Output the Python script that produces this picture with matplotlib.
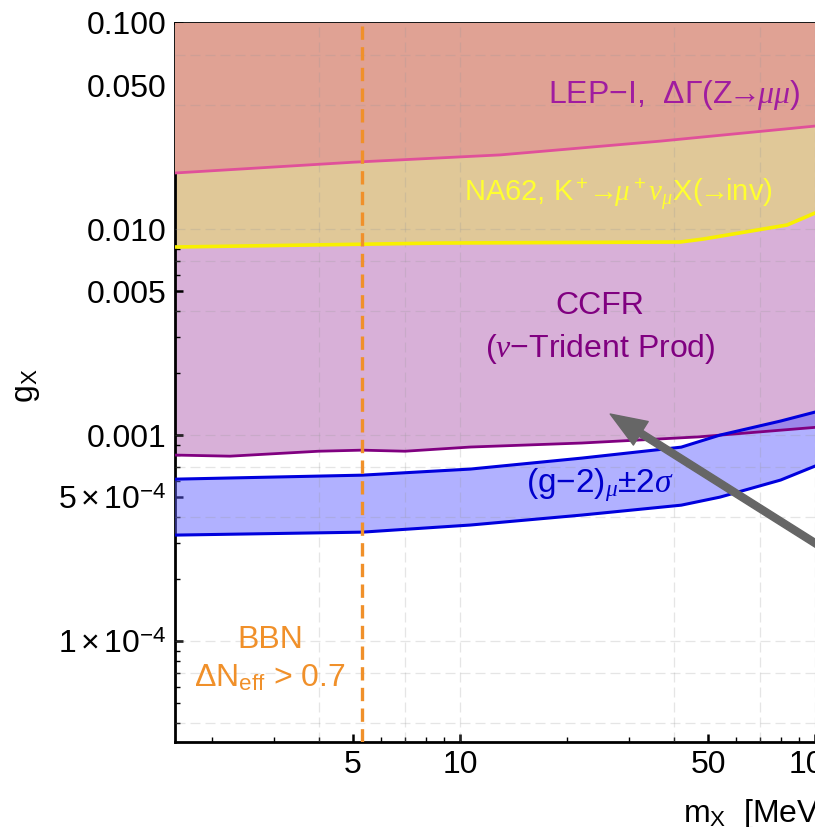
import numpy as np
import matplotlib.pyplot as plt
from matplotlib.ticker import FixedLocator, FixedFormatter, NullFormatter

plt.rcParams['font.family'] = ['Liberation Sans', 'DejaVu Sans']
plt.rcParams['mathtext.fontset'] = 'custom'
plt.rcParams['mathtext.rm'] = 'Liberation Sans'
plt.rcParams['mathtext.it'] = 'Liberation Serif:italic'
plt.rcParams['mathtext.bf'] = 'Liberation Sans:bold'

# LEP-I, Delta Gamma(Z -> mu mu) bound
m_lep = [1.57, 5.0, 13.0, 36.6, 100]
g_lep = [0.0187, 0.0211, 0.0229, 0.0267, 0.0316]

# NA62, K+ -> mu+ nu X(inv)
m_na62 = [1.57, 8.8, 41.7, 48.4, 83.4, 100]
g_na62 = [8.18e-3, 8.55e-3, 8.65e-3, 8.94e-3, 1.046e-2, 1.196e-2]

# CCFR neutrino trident
m_ccfr = [1.57, 2.25, 4.0, 5.3, 7.0, 10.7, 22, 47, 100]
g_ccfr = [8.0e-4, 7.9e-4, 8.35e-4, 8.45e-4, 8.35e-4, 8.75e-4, 9.15e-4, 9.8e-4, 1.09e-3]

# (g-2)_mu +- 2 sigma band
m_gm2 = [1.57, 5.3, 10.7, 22, 42, 54, 80, 100]
g_gm2_hi = [6.11e-4, 6.39e-4, 6.84e-4, 7.73e-4, 8.74e-4, 1.0e-3, 1.17e-3, 1.293e-3]
g_gm2_lo = [3.27e-4, 3.38e-4, 3.66e-4, 4.09e-4, 4.57e-4, 5.00e-4, 6.05e-4, 7.07e-4]

# BBN, Delta N_eff > 0.7
m_bbn = 5.3

x_major = [5, 10, 50, 100]
x_major_labels = ['5', '10', '50', '100']
y_major = [0.1, 0.05, 0.01, 0.005, 0.001, 5e-4, 1e-4]
y_major_labels = ['0.100', '0.050', '0.010', '0.005', '0.001',
                  r'$5\times10^{-4}$', r'$1\times10^{-4}$']

fig = plt.figure(figsize=(8.15, 8.27), dpi=100)
ax = fig.add_axes([0.2147, 0.1028, 0.7853, 0.8694])
ax.set_xscale('log')
ax.set_yscale('log')
ax.set_xlim(1.575, 100)
ax.set_ylim(3.24e-5, 0.1)

# excluded regions, each filled from its bound upward
ax.fill_between(m_ccfr, g_ccfr, 1, color='#D8B0D8', lw=0, zorder=1)
ax.fill_between(m_na62, g_na62, 1, color='#E0C898', lw=0, zorder=2)
ax.fill_between(m_lep, g_lep, 1, color='#E0A294', lw=0, zorder=3)
ax.fill_between(m_gm2, g_gm2_lo, g_gm2_hi, color='#5A5AFF', alpha=0.47, lw=0, zorder=4)

# grid at 1, 4, 7 of each decade
for d in [1, 10, 100]:
    for s in [1, 4, 7]:
        ax.axvline(s * d, color='#999999', alpha=0.25, lw=0.9, dashes=(8, 4), zorder=5)
for d in [1e-5, 1e-4, 1e-3, 1e-2]:
    for s in [1, 4, 7]:
        ax.axhline(s * d, color='#999999', alpha=0.25, lw=0.9, dashes=(8, 4), zorder=5)

ax.plot(m_ccfr, g_ccfr, color='#800080', lw=2, zorder=6)
ax.plot(m_na62, g_na62, color='#F8F000', lw=2.6, zorder=6)
ax.plot(m_lep, g_lep, color='#E0509A', lw=2, zorder=6)
ax.plot(m_gm2, g_gm2_hi, color='#0000DD', lw=2.2, zorder=6)
ax.plot(m_gm2, g_gm2_lo, color='#0000DD', lw=2.2, zorder=6)
ax.axvline(m_bbn, color='#F0902A', lw=2.4, dashes=(4, 2.2), zorder=7)

arrow = r'$\!\!\rightarrow\!\!$'
ax.text(40.1, 0.0447, 'LEP\u2212I,  \u0394\u0393(Z' + arrow + r'$\mu\mu$' + ')',
        color='#A01CA0', fontsize=23, ha='center', va='center', zorder=8)
ax.text(28.0, 0.0146, 'NA62, K$^+$' + arrow + r'$\mu^+\nu_\mu$' + 'X(' + arrow + 'inv)',
        color='#FFFF30', fontsize=21, ha='center', va='center', zorder=8)
ax.text(24.8, 3.3e-3, 'CCFR\n' + r'($\nu$' + '\u2212Trident Prod)', color='#800080',
        fontsize=23, ha='center', va='center', linespacing=1.45, zorder=8)
ax.text(24.8, 5.7e-4, '(g\u22122)' + r'$_\mu$' + '\u00b12' + r'$\sigma$', color='#0000CC',
        fontsize=24, ha='center', va='center', zorder=8)
ax.text(2.92, 1.01e-4, 'BBN', color='#F0902A', fontsize=23, ha='center', va='center', zorder=8)
ax.text(2.92, 6.6e-5, r'$\Delta$N$_{\mathrm{eff}}$ > 0.7', color='#F0902A',
        fontsize=23, ha='center', va='center', zorder=8)

ax.annotate('', xy=(26.5, 1.265e-3), xytext=(173, 1.65e-4),
            arrowprops=dict(width=5, headwidth=20, headlength=26,
                            color='#666666', shrink=0),
            annotation_clip=False, zorder=9)

# ticks
ax.xaxis.set_major_locator(FixedLocator(x_major))
ax.xaxis.set_major_formatter(FixedFormatter(x_major_labels))
x_minor = [s * d for d in [1, 10] for s in range(2, 10)] + [200]
ax.xaxis.set_minor_locator(FixedLocator([v for v in x_minor if v not in x_major]))
ax.xaxis.set_minor_formatter(NullFormatter())
ax.yaxis.set_major_locator(FixedLocator(y_major))
ax.yaxis.set_major_formatter(FixedFormatter(y_major_labels))
y_minor = [s * d for d in [1e-5, 1e-4, 1e-3, 1e-2] for s in range(1, 10)]
ax.yaxis.set_minor_locator(FixedLocator([v for v in y_minor
                                         if not any(np.isclose(v, y_major))]))
ax.yaxis.set_minor_formatter(NullFormatter())

ax.tick_params(which='both', direction='in', top=True, right=False, labelsize=23)
ax.tick_params(which='major', length=6, width=1.8, pad=6)
ax.tick_params(which='minor', length=3.5, width=1.0)

for side in ['left', 'bottom', 'top']:
    ax.spines[side].set_linewidth(2)
ax.spines['right'].set_visible(False)

ax.set_ylabel(r'g$_\mathrm{X}$', fontsize=23)
ax.yaxis.set_label_coords(-0.208, 0.495)
ax.set_xlabel(r'm$_\mathrm{X}$  [MeV]', fontsize=23, ha='left')
ax.xaxis.set_label_coords(0.794, -0.0765)

fig.savefig('out.png', dpi=100)
